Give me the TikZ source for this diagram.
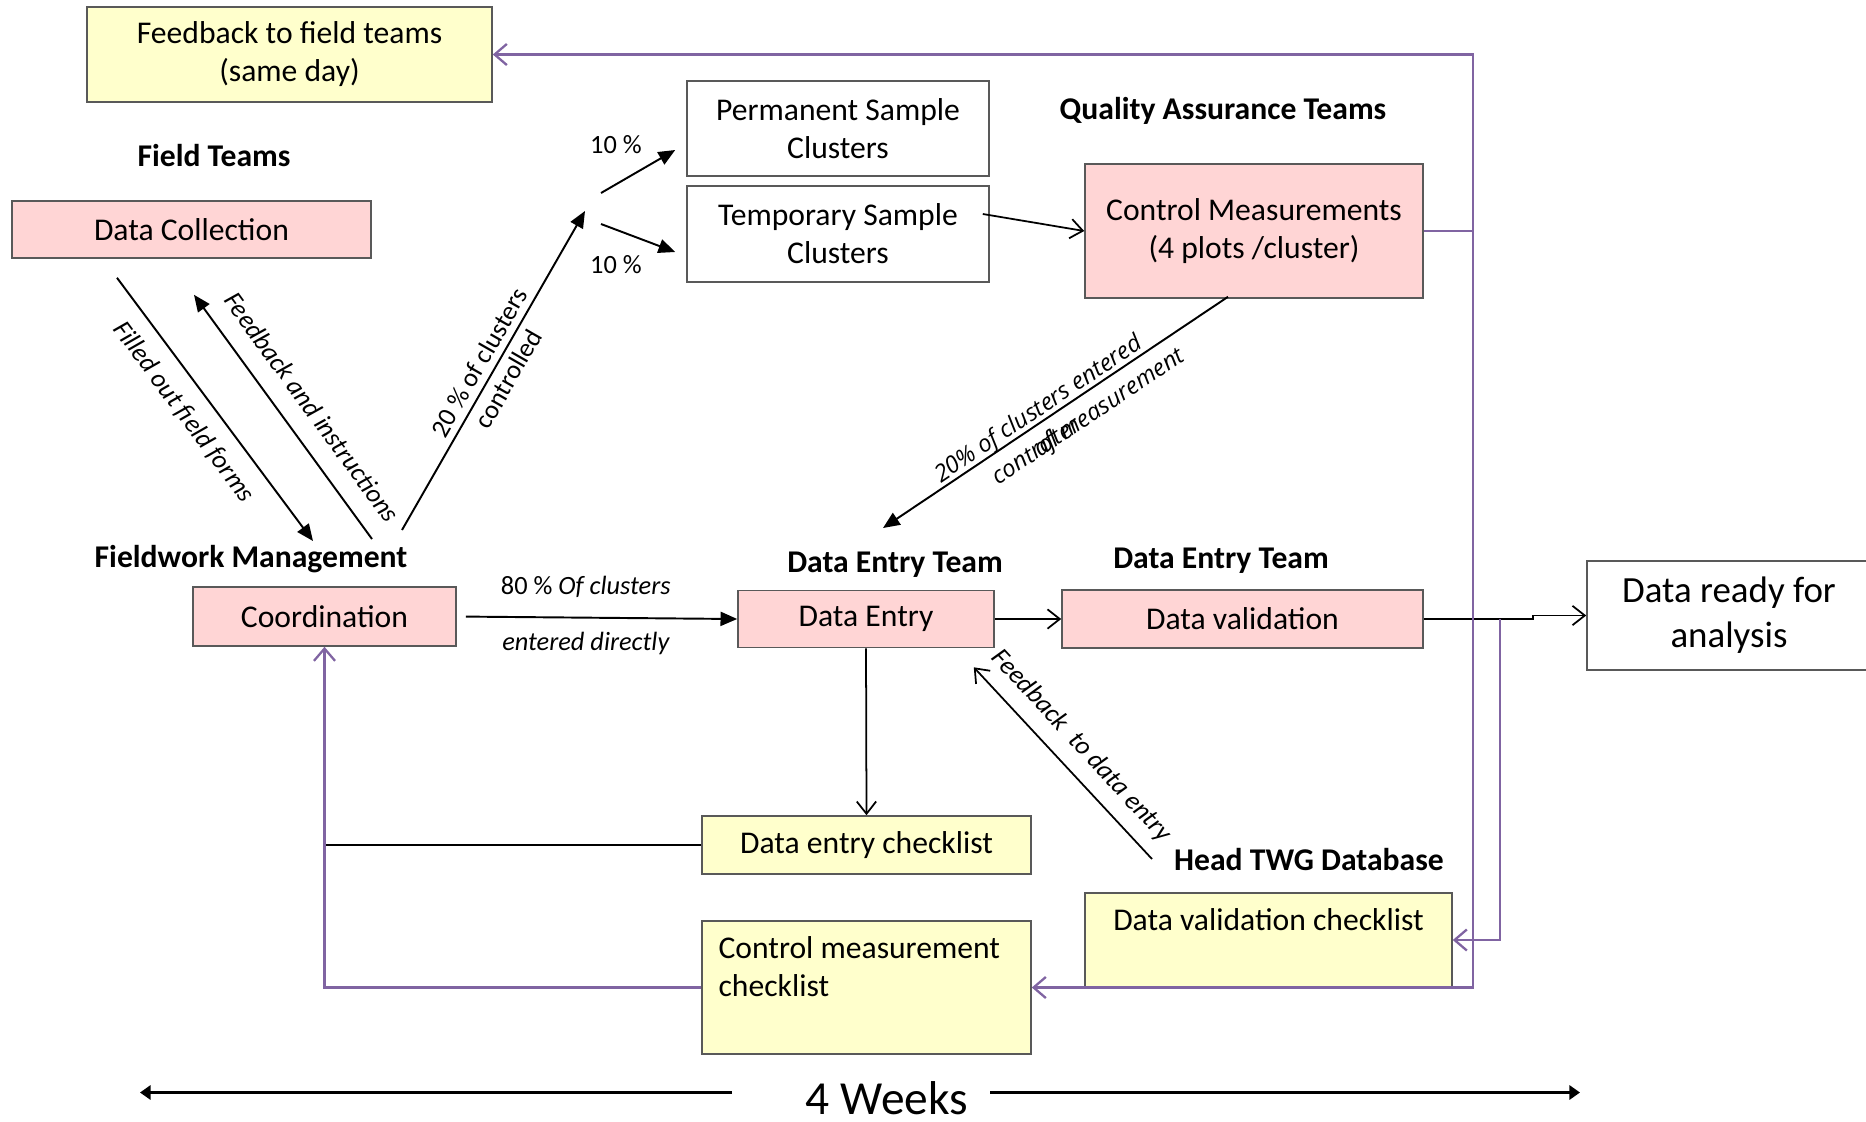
\documentclass[tikz,border=0pt]{standalone}
\usepackage{fontspec}
\setmainfont{Carlito}
\newfontfamily\opensans{Open Sans}
\usetikzlibrary{arrows.meta, calc}

\definecolor{pinkfill}{RGB}{255,213,213}
\definecolor{yellowfill}{RGB}{255,255,204}
\definecolor{boxline}{RGB}{89,89,89}
\definecolor{loopline}{RGB}{128,100,162}

\newcommand{\boxfont}{\fontsize{18}{21.6}\selectfont}
\newcommand{\notefont}{\fontsize{15}{19}\selectfont}

\tikzset{
	box/.style={rectangle, draw=boxline, line width=0.9pt, inner sep=0pt, align=center, font=\boxfont},
	pinkbox/.style={box, fill=pinkfill},
	yellowbox/.style={box, fill=yellowfill},
	whitebox/.style={box, fill=white},
	team/.style={font=\boxfont\bfseries, inner sep=0pt},
	note/.style={font=\notefont, inner sep=0pt},
	flow/.style={line width=1.1pt, -{Triangle[length=9.5pt, width=8pt]}},
	pass/.style={line width=1pt, -{Straight Barb[length=7pt, width=11pt]}},
	fback/.style={draw=loopline, line width=1.3pt, -{Straight Barb[length=7pt, width=12pt]}},
	span/.style={line width=2pt, -{Triangle[length=6pt, width=8pt]}},
}

\begin{document}
\begin{tikzpicture}
	\useasboundingbox (0,0) rectangle (37.32,-22.42);

	% field teams and fieldwork management
	\node[yellowbox, minimum width=8.1cm, minimum height=1.9cm] (fbField) at (5.79,-1.09) {Feedback to field teams\\(same day)};
	\node[team] (ftLabel) at (4.28,-3.12) {Field Teams};
	\node[pinkbox, minimum width=7.18cm, minimum height=1.14cm] (collect) at (3.83,-4.59) {Data Collection};

	\node[team] (fwLabel) at (5.02,-11.18) {Fieldwork Management};
	\node[pinkbox, minimum width=5.26cm, minimum height=1.18cm] (coord) at (6.49,-12.33) {Coordination};

	% sample clusters and quality assurance
	\node[whitebox, minimum width=6.04cm, minimum height=1.9cm] (perm) at (16.76,-2.57) {Permanent Sample\\Clusters};
	\node[whitebox, minimum width=6.04cm, minimum height=1.92cm] (temp) at (16.76,-4.68) {Temporary Sample\\Clusters};
	\node[note] (tenUp) at (12.32,-2.9) {10 \%};
	\node[note] (tenDown) at (12.32,-5.3) {10 \%};

	\node[team] (qaLabel) at (24.46,-2.22) {Quality Assurance Teams};
	\node[pinkbox, minimum width=6.76cm, minimum height=2.68cm] (ctrl) at (25.08,-4.62) {Control Measurements\\(4 plots /cluster)};

	% data entry row
	\node[team] (deLabel) at (17.9,-11.3) {Data Entry Team};
	\node[pinkbox, minimum width=5.12cm, minimum height=1.14cm] (entry) at (17.32,-12.38) {Data Entry};
	\node[team] (dvLabel) at (24.42,-11.22) {Data Entry Team};
	\node[pinkbox, minimum width=7.22cm, minimum height=1.16cm] (valid) at (24.85,-12.38) {Data validation};
	\node[whitebox, minimum width=5.68cm, minimum height=2.18cm, font=\fontsize{21}{25.6}\selectfont] (ready) at (34.58,-12.31) {Data ready for\\analysis};

	% checklists
	\node[yellowbox, minimum width=6.58cm, minimum height=1.16cm] (entCheck) at (17.33,-16.9) {Data entry checklist};
	\node[team] (headLabel) at (26.18,-17.2) {Head TWG Database};
	\node[yellowbox, minimum width=7.34cm, minimum height=1.88cm] (valCheck) at (25.37,-18.8) {};
	\node[font=\boxfont, inner sep=0pt] (valCheckText) at ([yshift=-0.54cm]valCheck.north) {Data validation checklist};
	\node[yellowbox, minimum width=6.58cm, minimum height=2.66cm] (ctrlCheck) at (17.33,-19.75) {};
	\node[font=\boxfont, inner sep=0pt, anchor=north west, align=left] (ctrlCheckText) at ([shift={(0.34,-0.32)}]ctrlCheck.north west) {Control measurement\\checklist};

	% field forms and feedback
	\draw[flow] ([shift={(-1.49,-0.38)}]collect.south) -- ([shift={(1.24,0.36)}]fwLabel.center)
		node[pos=0.45, sloped, below=0.3cm, note] {\itshape Filled out field forms};
	\draw[flow] ([shift={(2.42,0.4)}]fwLabel.center) -- ([shift={(0.05,-0.72)}]collect.south)
		node[pos=0.47, sloped, above=0.38cm, note] {\itshape Feedback and instructions};

	% controlled clusters
	\coordinate (split) at (11.7,-4.22);
	\draw[flow] ([shift={(3.02,0.58)}]fwLabel.center) -- (split)
		node[midway, sloped, note, align=center] {20 \% of clusters\\controlled};
	\draw[flow] ([shift={(0.32,0.36)}]split) -- ([shift={(-0.22,-0.43)}]perm.west);
	\draw[flow] ([shift={(0.32,-0.26)}]split) -- ([shift={(-0.22,-0.36)}]temp.west);
	\draw[pass] ([shift={(-0.14,0.4)}]temp.east) -- (ctrl.west);

	\draw[flow] ([shift={(-0.52,0.04)}]ctrl.south) -- ([shift={(-0.24,0.74)}]deLabel.center)
		node[pos=0.53, sloped, above=-1pt, font=\opensans\itshape\fontsize{13.5}{16}\selectfont, inner sep=0pt] {20\% of clusters entered}
		node[pos=0.44, sloped, below=0.2cm, font=\opensans\itshape\fontsize{13.5}{16}\selectfont, inner sep=0pt] {control measurement}
		node[pos=0.53, sloped, below=0.2cm, font=\opensans\itshape\fontsize{13.5}{16}\selectfont, inner sep=0pt] {after};

	% direct entry
	\draw[flow, shorten <=0.18cm] (coord.east) -- (entry.west)
		node[pos=0.46, above=0.38cm, note] {80 \% \textit{Of clusters}}
		node[pos=0.46, below=0.28cm, note] {\itshape entered directly};
	\draw[pass] (entry.east) -- (valid.west);
	\draw[pass] (entry.south) -- (entCheck.north);
	\draw[pass] ([shift={(-3.14,0.02)}]headLabel.center) -- ([shift={(-0.42,-0.38)}]entry.south east)
		node[pos=0.5, sloped, above=0.26cm, note] {\itshape Feedback~~to data entry};
	\draw[pass] (valid.east) -- ++(2.18,0) |- (ready.west);

	% feedback loops
	\draw[line width=1.1pt] (entCheck.west) -- (entCheck.west -| coord.south);
	\draw[fback] (ctrl.east) -- ++(0.98,0) coordinate (rail) |- (fbField.east);
	\draw[fback] (rail) |- (ctrlCheck.east);
	\draw[fback] ([xshift=1.52cm]valid.east) |- (valCheck.east);
	\draw[fback] (ctrlCheck.west) -| (coord.south);

	% time span
	\node[font=\fontsize{27}{32}\selectfont, inner sep=0pt] (weeks) at (17.74,-21.96) {4 Weeks};
	\draw[span] ([shift={(-3.1,0.11)}]weeks.center) -- ([shift={(-14.94,0.11)}]weeks.center);
	\draw[span] ([shift={(2.06,0.11)}]weeks.center) -- ([shift={(13.86,0.11)}]weeks.center);
\end{tikzpicture}
\end{document}
